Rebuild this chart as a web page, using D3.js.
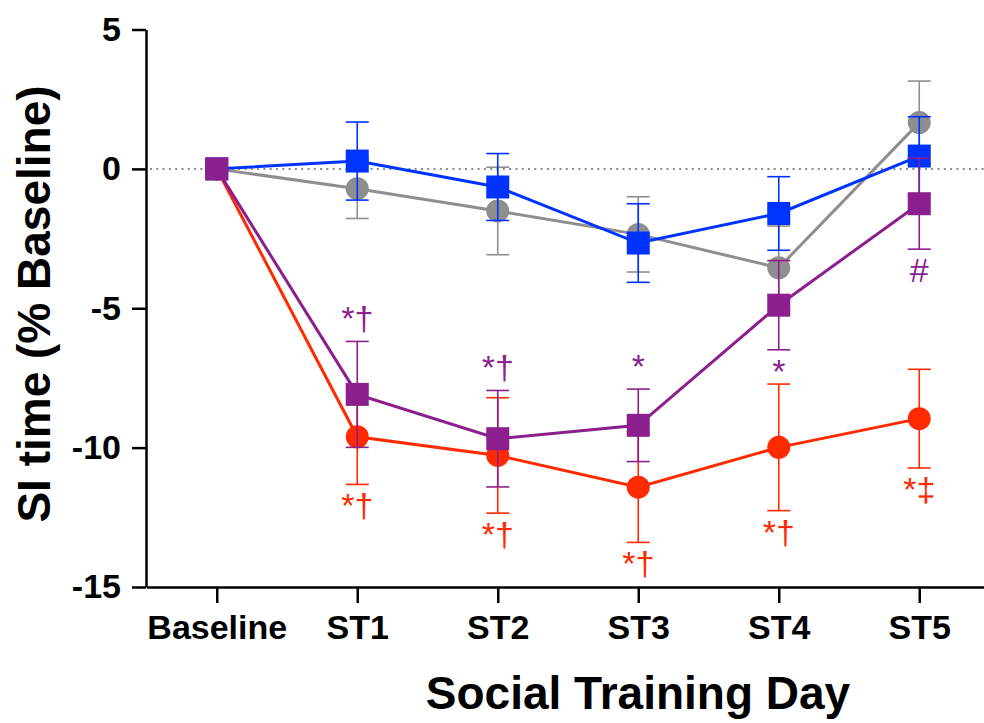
<!DOCTYPE html>
<html>
<head>
<meta charset="utf-8">
<script src="https://cdn.jsdelivr.net/npm/d3@7"></script>
<style>
  body { margin: 0; background: #fff; }
  #chart { width: 984px; height: 723px; }
  text { font-family: "Liberation Sans", Arial, sans-serif; }
</style>
</head>
<body>
<div id="chart"></div>
<script>
const days = ["Baseline", "ST1", "ST2", "ST3", "ST4", "ST5"];
const yTicks = [5, 0, -5, -10, -15];

// group means and SEM (% baseline)
const grayMean = [0, -0.71, -1.51, -2.35, -3.55, 1.66];
const graySem = [0, 1.07, 1.57, 1.35, 1.5, 1.49];
const blueMean = [0, 0.28, -0.65, -2.66, -1.6, 0.46];
const blueSem = [0, 1.4, 1.2, 1.41, 1.32, 1.41];
const redMean = [0, -9.61, -10.28, -11.42, -9.99, -8.96];
const redSem = [0, 1.71, 2.07, 1.98, 2.27, 1.77];
const purpleMean = [0, -8.09, -9.68, -9.2, -4.89, -1.25];
const purpleSem = [0, 1.9, 1.73, 1.3, 1.6, 1.63];

// significance marks
const purpleMarks = ["", "*\u2020", "*\u2020", "*", "*", "#"];
const purpleMarkAbove = [false, true, true, true, false, false];
const redMarks = ["", "*\u2020", "*\u2020", "*\u2020", "*\u2020", "*\u2021"];

const series = [
    { mean: grayMean, sem: graySem, color: "#8e8e8e", shape: "circle" },
    { mean: blueMean, sem: blueSem, color: "#0033ff", shape: "square" },
    { mean: redMean, sem: redSem, color: "#ff2a00", shape: "circle" },
    { mean: purpleMean, sem: purpleSem, color: "#8b1f8e", shape: "square" }
];

const width = 984, height = 723;
const svg = d3.select("#chart").append("svg")
    .attr("width", width)
    .attr("height", height);

const xScale = d3.scalePoint().domain(days).range([146.5, 989.5]).padding(0.5);
const yScale = d3.scaleLinear().domain([-15, 5]).range([587, 29.5]);

// zero reference line
svg.append("line")
    .attr("x1", 150).attr("x2", width)
    .attr("y1", yScale(0)).attr("y2", yScale(0))
    .attr("stroke", "#8a8a8a")
    .attr("stroke-width", 2)
    .attr("stroke-dasharray", "2,4.3");

const yAxis = d3.axisLeft(yScale)
    .tickValues(yTicks)
    .tickFormat(d => String(d))
    .tickSize(14)
    .tickSizeOuter(0)
    .tickPadding(11);

const gy = svg.append("g")
    .attr("transform", "translate(146,0)")
    .call(yAxis);
gy.selectAll("path, line").attr("stroke", "#000").attr("stroke-width", 2.5);
gy.selectAll("text")
    .style("font-size", "34px")
    .style("font-weight", "bold")
    .attr("fill", "#000");

const xAxis = d3.axisBottom(xScale)
    .tickSize(16)
    .tickSizeOuter(0)
    .tickPadding(12);

const gx = svg.append("g")
    .attr("transform", "translate(0,587)")
    .call(xAxis);
gx.selectAll("path, line").attr("stroke", "#000").attr("stroke-width", 2.5);
gx.selectAll("text")
    .style("font-size", "34px")
    .style("font-weight", "bold")
    .attr("fill", "#000");

svg.append("text")
    .attr("x", 638)
    .attr("y", 709)
    .attr("text-anchor", "middle")
    .style("font-size", "46px")
    .style("font-weight", "bold")
    .text("Social Training Day");

svg.append("text")
    .attr("transform", "translate(50,304) rotate(-90)")
    .attr("text-anchor", "middle")
    .style("font-size", "46px")
    .style("font-weight", "bold")
    .text("SI time (% Baseline)");

const line = d3.line()
    .x((d, i) => xScale(days[i]))
    .y(d => yScale(d));

series.forEach(s => {
    const g = svg.append("g");
    const pts = s.mean.map((m, i) => ({ day: days[i], m: m, e: s.sem[i] }));

    // error bars
    const eb = pts.filter(d => d.e > 0);
    g.selectAll(".stem").data(eb).enter().append("line")
        .attr("x1", d => xScale(d.day)).attr("x2", d => xScale(d.day))
        .attr("y1", d => yScale(d.m + d.e)).attr("y2", d => yScale(d.m - d.e))
        .attr("stroke", s.color).attr("stroke-width", 1.6);
    [1, -1].forEach(sign => {
        g.selectAll(".cap").data(eb).enter().append("line")
            .attr("x1", d => xScale(d.day) - 11.5).attr("x2", d => xScale(d.day) + 11.5)
            .attr("y1", d => yScale(d.m + sign * d.e)).attr("y2", d => yScale(d.m + sign * d.e))
            .attr("stroke", s.color).attr("stroke-width", 1.6);
    });

    g.append("path")
        .datum(s.mean)
        .attr("fill", "none")
        .attr("stroke", s.color)
        .attr("stroke-width", 3)
        .attr("d", line);

    if (s.shape === "circle") {
        g.selectAll(".pt").data(pts).enter().append("circle")
            .attr("cx", d => xScale(d.day))
            .attr("cy", d => yScale(d.m))
            .attr("r", 11.5)
            .attr("fill", s.color);
    } else {
        g.selectAll(".pt").data(pts).enter().append("rect")
            .attr("x", d => xScale(d.day) - 11.5)
            .attr("y", d => yScale(d.m) - 11.5)
            .attr("width", 23).attr("height", 23)
            .attr("fill", s.color);
    }
});

// significance annotations
svg.selectAll(".redMark").data(redMarks).enter().append("text")
    .attr("x", (d, i) => xScale(days[i]))
    .attr("y", (d, i) => yScale(redMean[i] - redSem[i]) + 33)
    .attr("text-anchor", "middle")
    .attr("fill", "#ff2a00")
    .style("font-size", "34px")
    .text(d => d);

svg.selectAll(".purpleMark").data(purpleMarks).enter().append("text")
    .attr("x", (d, i) => xScale(days[i]))
    .attr("y", (d, i) => purpleMarkAbove[i]
        ? yScale(purpleMean[i] + purpleSem[i]) - 11
        : yScale(purpleMean[i] - purpleSem[i]) + 33)
    .attr("text-anchor", "middle")
    .attr("fill", "#8b1f8e")
    .style("font-size", "34px")
    .text(d => d);
</script>
</body>
</html>
